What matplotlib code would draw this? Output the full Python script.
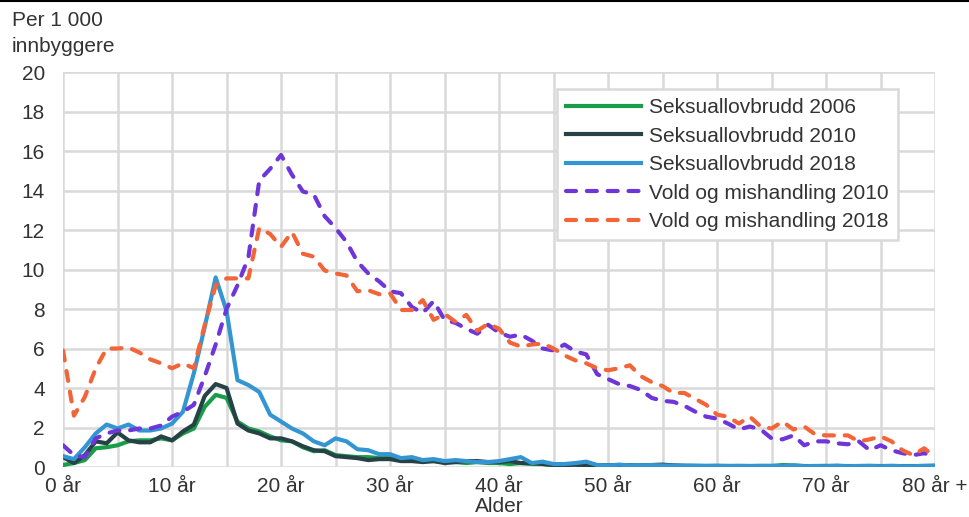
import numpy as np
import matplotlib
matplotlib.use('Agg')
import matplotlib.pyplot as plt
from matplotlib.lines import Line2D

plt.rcParams['font.family'] = ['Liberation Sans', 'DejaVu Sans']

# Alder 0 .. 80+ (rater per 1 000 innbyggere)
alder = np.arange(0, 81)

seksual_2006 = [0.1, 0.2, 0.35, 0.95, 1.0, 1.1, 1.3, 1.35, 1.35, 1.45,
                1.35, 1.7, 1.95, 3.05, 3.65, 3.5, 2.3, 1.95, 1.8, 1.55,
                1.35, 1.3, 1.0, 0.8, 0.85, 0.6, 0.55, 0.5, 0.5, 0.45,
                0.45, 0.35, 0.35, 0.3, 0.3, 0.25, 0.25, 0.2, 0.25, 0.2,
                0.2, 0.15, 0.2, 0.15, 0.15, 0.1, 0.1, 0.12, 0.1, 0.08,
                0.08, 0.07, 0.07, 0.07, 0.06, 0.06, 0.06, 0.05, 0.05, 0.05,
                0.06, 0.05, 0.05, 0.05, 0.06, 0.05, 0.1, 0.08, 0.05, 0.05,
                0.06, 0.05, 0.05, 0.05, 0.06, 0.05, 0.05, 0.05, 0.05, 0.05,
                0.05]

seksual_2010 = [0.5, 0.2, 0.6, 1.3, 1.2, 1.75, 1.35, 1.25, 1.25, 1.55,
                1.35, 1.8, 2.15, 3.6, 4.2, 4.0, 2.2, 1.85, 1.7, 1.45,
                1.45, 1.3, 1.05, 0.85, 0.8, 0.55, 0.5, 0.45, 0.35, 0.4,
                0.4, 0.3, 0.3, 0.25, 0.3, 0.2, 0.25, 0.3, 0.3, 0.25,
                0.25, 0.3, 0.2, 0.2, 0.15, 0.1, 0.1, 0.12, 0.1, 0.08,
                0.07, 0.08, 0.08, 0.07, 0.1, 0.12, 0.08, 0.06, 0.05, 0.04,
                0.04, 0.05, 0.04, 0.04, 0.04, 0.03, 0.04, 0.03, 0.04, 0.03,
                0.03, 0.05, 0.03, 0.02, 0.03, 0.02, 0.02, 0.03, 0.02, 0.02,
                0.02]

seksual_2018 = [0.55, 0.4, 1.0, 1.7, 2.15, 1.95, 2.15, 1.85, 1.85, 1.95,
                2.2, 2.8, 4.75, 7.1, 9.6, 7.9, 4.4, 4.15, 3.8, 2.65,
                2.3, 1.95, 1.7, 1.3, 1.1, 1.45, 1.3, 0.9, 0.85, 0.65,
                0.65, 0.45, 0.5, 0.35, 0.4, 0.3, 0.35, 0.3, 0.25, 0.25,
                0.3, 0.4, 0.5, 0.2, 0.27, 0.15, 0.15, 0.2, 0.27, 0.1,
                0.07, 0.12, 0.08, 0.08, 0.1, 0.08, 0.07, 0.07, 0.07, 0.06,
                0.06, 0.05, 0.06, 0.05, 0.05, 0.06, 0.04, 0.08, 0.04, 0.05,
                0.04, 0.07, 0.04, 0.05, 0.05, 0.04, 0.06, 0.04, 0.04, 0.06,
                0.08]

vold_2010 = [1.1, 0.6, 0.5, 1.45, 1.7, 1.85, 1.85, 1.95, 1.95, 2.1,
             2.55, 2.8, 3.15, 4.6, 6.2, 8.0, 9.2, 10.6, 14.5, 15.1,
             15.8, 14.8, 13.95, 13.8, 12.7, 12.1, 11.4, 10.4, 9.8, 9.4,
             8.9, 8.8, 8.1, 7.8, 8.4, 7.45, 7.3, 7.0, 6.75, 7.2,
             6.8, 6.6, 6.7, 6.4, 6.0, 5.9, 6.2, 5.85, 5.7, 4.7,
             4.45, 4.2, 4.1, 3.9, 3.5, 3.35, 3.3, 3.1, 2.8, 2.55,
             2.45, 2.2, 1.9, 2.05, 1.9, 1.45, 1.4, 1.6, 1.1, 1.3,
             1.3, 1.2, 1.15, 1.3, 0.85, 1.1, 0.85, 0.7, 0.6, 0.7,
             0.5]

vold_2018 = [5.9, 2.6, 3.55, 5.0, 6.0, 6.0, 6.05, 5.8, 5.45, 5.25,
             5.0, 5.25, 5.0, 7.2, 9.2, 9.55, 9.55, 9.55, 12.1, 11.8,
             11.15, 11.9, 10.8, 10.65, 9.95, 9.8, 9.7, 8.9, 8.95, 8.75,
             8.8, 7.95, 7.95, 8.45, 7.45, 7.75, 7.35, 7.7, 6.9, 7.25,
             7.0, 6.3, 6.1, 6.2, 6.25, 6.0, 5.65, 5.4, 5.25, 5.0,
             4.9, 5.0, 5.15, 4.6, 4.3, 4.1, 3.75, 3.75, 3.45, 3.15,
             2.65, 2.55, 2.2, 2.55, 2.05, 1.95, 2.3, 1.9, 2.05, 1.65,
             1.6, 1.6, 1.6, 1.3, 1.4, 1.55, 1.3, 0.85, 0.6, 0.95,
             0.5]

x_ticks = [0, 10, 20, 30, 40, 50, 60, 70, 80]
x_labels = ['0 år', '10 år', '20 år', '30 år', '40 år', '50 år', '60 år', '70 år', '80 år +']

tekst = '#333333'
grid_farge = '#d9d9d9'
fs = 15

fig = plt.figure(figsize=(9.7, 5.17), dpi=100)
ax = fig.add_axes([0.065, 0.0967, 0.899, 0.764])

lw = 3.0
ax.plot(alder, seksual_2006, color='#1a9d49', lw=lw, label='Seksuallovbrudd 2006',
        solid_joinstyle='round', zorder=3)
ax.plot(alder, seksual_2010, color='#274247', lw=lw, label='Seksuallovbrudd 2010',
        solid_joinstyle='round', zorder=3)
ax.plot(alder, seksual_2018, color='#3396d2', lw=lw, label='Seksuallovbrudd 2018',
        solid_joinstyle='round', zorder=3)
ax.plot(alder, vold_2010, color='#6e36d9', lw=lw, dashes=(2.4, 2.6), dash_capstyle='round',
        label='Vold og mishandling 2010', zorder=4)
ax.plot(alder, vold_2018, color='#f26539', lw=lw, dashes=(2.4, 2.6), dash_capstyle='round',
        label='Vold og mishandling 2018', zorder=4)

ax.set_xlim(0, 80)
ax.set_ylim(0, 20)
ax.set_xticks(x_ticks)
ax.set_xticklabels(x_labels)
ax.set_xticks(np.arange(0, 81, 5), minor=True)
ax.set_yticks(np.arange(0, 21, 2))
ax.grid(True, which='both', color=grid_farge, lw=1.8, zorder=0)
ax.set_axisbelow(True)
for s in ax.spines.values():
    s.set_visible(False)
ax.tick_params(which='both', length=0, labelsize=fs, colors=tekst)
ax.tick_params(axis='x', pad=7)
ax.tick_params(axis='y', pad=13)
ax.set_xlabel('Alder', fontsize=fs, color=tekst, labelpad=1)

fig.text(0.012, 0.961, 'Per 1 000', fontsize=fs, color=tekst, va='center')
fig.text(0.012, 0.910, 'innbyggere', fontsize=fs, color=tekst, va='center')

# svart strek øverst
fig.add_artist(Line2D([0, 1], [0.998, 0.998], color='black', lw=1.5))

leg = ax.legend(loc='upper right', bbox_to_anchor=(0.957, 0.957), fontsize=fs,
                handlelength=3.6, handletextpad=0.35, labelspacing=0.45,
                borderpad=0.45, borderaxespad=0, fancybox=False, framealpha=1,
                labelcolor=tekst)
leg.get_frame().set_edgecolor(grid_farge)
leg.get_frame().set_linewidth(1.8)

fig.savefig('out.png', dpi=100)
